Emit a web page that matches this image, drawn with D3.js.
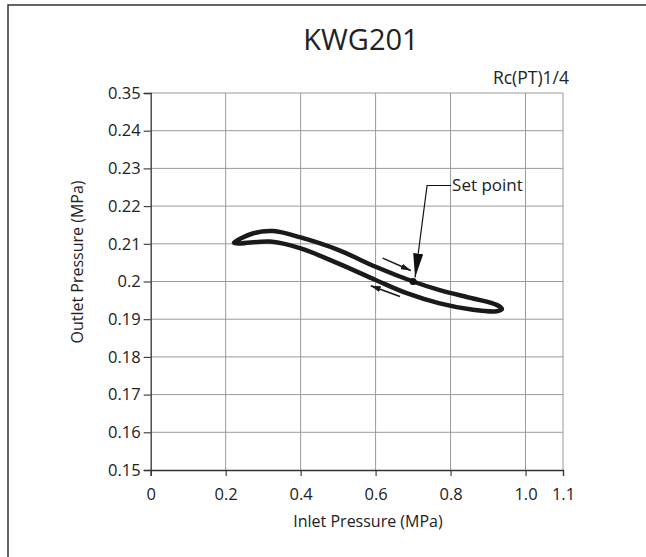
<!DOCTYPE html>
<html>
<head>
<meta charset="utf-8">
<script src="https://cdn.jsdelivr.net/npm/d3@7"></script>
<style>
  body { margin: 0; background: #fff; }
  svg text { font-family: "Open Sans", "Noto Sans", sans-serif; fill: #222; }
</style>
</head>
<body>
<div id="chart"></div>
<script>
// data
var upperX = [0.222, 0.274, 0.327, 0.400, 0.500, 0.600, 0.700, 0.771, 0.860, 0.923, 0.937],
    upperY = [0.2103, 0.2128, 0.2134, 0.2117, 0.2084, 0.2039, 0.2000, 0.1977, 0.1955, 0.1938, 0.1927],
    lowerX = [0.923, 0.860, 0.771, 0.683, 0.600, 0.500, 0.400, 0.318, 0.238],
    lowerY = [0.1921, 0.1925, 0.1942, 0.1969, 0.2004, 0.2048, 0.2088, 0.2106, 0.2101];

var xTicks = [0, 0.2, 0.4, 0.6, 0.8, 1.0, 1.1],
    xTickLabels = ["0", "0.2", "0.4", "0.6", "0.8", "1.0", "1.1"],
    yTicks = [0.15, 0.16, 0.17, 0.18, 0.19, 0.20, 0.21, 0.22, 0.23, 0.24, 0.25],
    // the top tick is a broken axis: it reads 0.35
    yTickLabels = ["0.15", "0.16", "0.17", "0.18", "0.19", "0.2", "0.21", "0.22", "0.23", "0.24", "0.35"];

var setPoint = [0.7, 0.2];
var upArrow = [[0.619, 0.2062], [0.694, 0.2029]],
    downArrow = [[0.665, 0.1960], [0.587, 0.1989]];

var width = 646, height = 557;

var x = d3.scaleLinear().domain([0, 1.1]).range([150.7, 563]);
var y = d3.scaleLinear().domain([0.15, 0.25]).range([470, 93]);

var svg = d3.select("#chart").append("svg")
  .attr("width", width)
  .attr("height", height);

// outer frame (left + top only)
svg.append("path")
  .attr("d", "M8,560 L8,5 L646,5")
  .attr("fill", "none")
  .attr("stroke", "#333")
  .attr("stroke-width", 1.5);

// title
svg.append("text")
  .attr("x", 361).attr("y", 50)
  .attr("text-anchor", "middle")
  .style("font-size", "29px")
  .text("KWG201");

svg.append("text")
  .attr("x", 569).attr("y", 84)
  .attr("text-anchor", "end")
  .style("font-size", "17.5px")
  .text("Rc(PT)1/4");

// grid
svg.append("g").selectAll("line.gx")
  .data(xTicks.slice(1))
  .enter().append("line")
  .attr("x1", function(d) { return x(d); })
  .attr("x2", function(d) { return x(d); })
  .attr("y1", y(0.25)).attr("y2", y(0.15))
  .attr("stroke", "#9a9a9a").attr("stroke-width", 1);

svg.append("g").selectAll("line.gy")
  .data(yTicks.slice(1))
  .enter().append("line")
  .attr("x1", x(0)).attr("x2", x(1.1))
  .attr("y1", function(d) { return y(d); })
  .attr("y2", function(d) { return y(d); })
  .attr("stroke", "#9a9a9a").attr("stroke-width", 1);

// axes
var xAxis = svg.append("g")
  .attr("transform", "translate(0," + y(0.15) + ")")
  .call(d3.axisBottom(x).tickValues(xTicks)
    .tickFormat(function(d, i) { return xTickLabels[i]; })
    .tickSize(6).tickPadding(12));

var yAxis = svg.append("g")
  .attr("transform", "translate(" + x(0) + ",0)")
  .call(d3.axisLeft(y).tickValues(yTicks)
    .tickFormat(function(d, i) { return yTickLabels[i]; })
    .tickSize(7).tickPadding(3));

[xAxis, yAxis].forEach(function(a) {
  a.select(".domain").attr("stroke", "#333").attr("stroke-width", 1.3);
  a.selectAll(".tick line").attr("stroke", "#333").attr("stroke-width", 1.1);
  a.selectAll(".tick text")
    .style("font-family", "'Open Sans', sans-serif")
    .style("font-size", "16.5px")
    .attr("fill", "#222");
});

// axis titles
svg.append("text")
  .attr("x", 368).attr("y", 527)
  .attr("text-anchor", "middle")
  .style("font-size", "16px")
  .text("Inlet Pressure (MPa)");

svg.append("text")
  .attr("transform", "translate(83,262) rotate(-90)")
  .attr("text-anchor", "middle")
  .style("font-size", "16px")
  .text("Outlet Pressure (MPa)");

// hysteresis loop
var loop = upperX.map(function(d, i) { return [d, upperY[i]]; })
  .concat(lowerX.map(function(d, i) { return [d, lowerY[i]]; }));

var line = d3.line()
  .x(function(d) { return x(d[0]); })
  .y(function(d) { return y(d[1]); })
  .curve(d3.curveCatmullRomClosed.alpha(0.5));

svg.append("path")
  .datum(loop)
  .attr("d", line)
  .attr("fill", "none")
  .attr("stroke", "#1a1a1a")
  .attr("stroke-width", 4.5)
  .attr("stroke-linejoin", "round");

// markers
var defs = svg.append("defs");
defs.append("marker")
  .attr("id", "small")
  .attr("viewBox", "0 0 10 6")
  .attr("refX", 10).attr("refY", 3)
  .attr("markerWidth", 10).attr("markerHeight", 6)
  .attr("markerUnits", "userSpaceOnUse")
  .attr("orient", "auto")
  .append("path").attr("d", "M0,0 L10,3 L0,6 Z").attr("fill", "#1a1a1a");

defs.append("marker")
  .attr("id", "big")
  .attr("viewBox", "0 0 24 10")
  .attr("refX", 24).attr("refY", 5)
  .attr("markerWidth", 24).attr("markerHeight", 10)
  .attr("markerUnits", "userSpaceOnUse")
  .attr("orient", "auto")
  .append("path").attr("d", "M0,0 L24,5 L0,10 Z").attr("fill", "#111");

// direction arrows
[upArrow, downArrow].forEach(function(a) {
  svg.append("line")
    .attr("x1", x(a[0][0])).attr("y1", y(a[0][1]))
    .attr("x2", x(a[1][0])).attr("y2", y(a[1][1]))
    .attr("stroke", "#1a1a1a").attr("stroke-width", 1.6)
    .attr("marker-end", "url(#small)");
});

// set point
var sx = x(setPoint[0]), sy = y(setPoint[1]);
svg.append("circle")
  .attr("cx", sx).attr("cy", sy).attr("r", 3.5)
  .attr("fill", "#111");

svg.append("path")
  .attr("d", "M" + (sx + 38) + "," + 185.5 + " L" + (sx + 14) + "," + 185.5 +
             " L" + (sx + 2) + "," + (sy - 4))
  .attr("fill", "none")
  .attr("stroke", "#111").attr("stroke-width", 1.2)
  .attr("marker-end", "url(#big)");

svg.append("text")
  .attr("x", sx + 39).attr("y", 191)
  .style("font-size", "17px")
  .text("Set point");
</script>
</body>
</html>
